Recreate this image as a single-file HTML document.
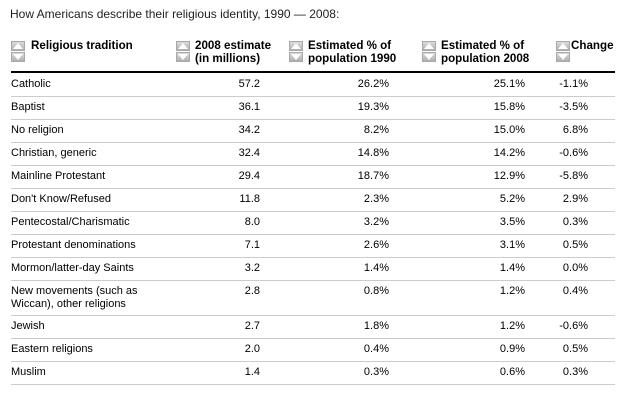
<!DOCTYPE html>
<html><head><meta charset="utf-8"><style>
body{margin:0;width:626px;height:400px;background:#fff;font-family:"Liberation Sans",Arial,sans-serif;color:#000;position:relative;overflow:hidden}
.t{position:absolute;left:10px;top:7px;font-size:12px;color:#222}
.h{position:absolute;font-size:11.6px;font-weight:bold;line-height:13px;top:39px}
.ic{position:absolute;width:14px;height:10px;background:linear-gradient(#dcdcdc,#b0b0b0);border:1px solid #a8a8a8;box-sizing:border-box}
.ic svg{display:block}
.hr{position:absolute;left:11px;width:604px;height:0;border-top:1px solid #ccc}
.thick{position:absolute;left:11px;width:604px;top:71px;height:2px;background:#000}
.c{position:absolute;font-size:11px;line-height:13px}
.r{text-align:right}
</style></head><body>
<div class="t">How Americans describe their religious identity, 1990 — 2008:</div>

<div class="ic" style="left:11px;top:41px"><svg width="12" height="8"><polygon points="6,1 11,7 1,7" fill="#fff"/></svg></div>
<div class="ic" style="left:11px;top:52px"><svg width="12" height="8"><polygon points="1,1 11,1 6,7" fill="#fff"/></svg></div>
<div class="h" style="left:31px">Religious tradition</div>

<div class="ic" style="left:176px;top:41px"><svg width="12" height="8"><polygon points="6,1 11,7 1,7" fill="#fff"/></svg></div>
<div class="ic" style="left:176px;top:52px"><svg width="12" height="8"><polygon points="1,1 11,1 6,7" fill="#fff"/></svg></div>
<div class="h" style="left:195px">2008 estimate<br>(in millions)</div>

<div class="ic" style="left:289px;top:41px"><svg width="12" height="8"><polygon points="6,1 11,7 1,7" fill="#fff"/></svg></div>
<div class="ic" style="left:289px;top:52px"><svg width="12" height="8"><polygon points="1,1 11,1 6,7" fill="#fff"/></svg></div>
<div class="h" style="left:308px">Estimated % of<br>population 1990</div>

<div class="ic" style="left:422px;top:41px"><svg width="12" height="8"><polygon points="6,1 11,7 1,7" fill="#fff"/></svg></div>
<div class="ic" style="left:422px;top:52px"><svg width="12" height="8"><polygon points="1,1 11,1 6,7" fill="#fff"/></svg></div>
<div class="h" style="left:441px">Estimated % of<br>population 2008</div>

<div class="ic" style="left:556px;top:41px"><svg width="12" height="8"><polygon points="6,1 11,7 1,7" fill="#fff"/></svg></div>
<div class="ic" style="left:556px;top:52px"><svg width="12" height="8"><polygon points="1,1 11,1 6,7" fill="#fff"/></svg></div>
<div class="h" style="left:571px">Change</div>

<div class="thick"></div>

<div id="rows"></div>
<script>
var d=[["Catholic","57.2","26.2%","25.1%","-1.1%"],["Baptist","36.1","19.3%","15.8%","-3.5%"],["No religion","34.2","8.2%","15.0%","6.8%"],["Christian, generic","32.4","14.8%","14.2%","-0.6%"],["Mainline Protestant","29.4","18.7%","12.9%","-5.8%"],["Don't Know/Refused","11.8","2.3%","5.2%","2.9%"],["Pentecostal/Charismatic","8.0","3.2%","3.5%","0.3%"],["Protestant denominations","7.1","2.6%","3.1%","0.5%"],["Mormon/latter-day Saints","3.2","1.4%","1.4%","0.0%"],["New movements (such as<br>Wiccan), other religions","2.8","0.8%","1.2%","0.4%"],["Jewish","2.7","1.8%","1.2%","-0.6%"],["Eastern religions","2.0","0.4%","0.9%","0.5%"],["Muslim","1.4","0.3%","0.6%","0.3%"]];
var y=73,h='';
d.forEach(function(r,i){var H=(i==9)?35:23;var ty=y+5;
h+='<div class="c" style="left:11px;top:'+ty+'px">'+r[0]+'</div>';
h+='<div class="c r" style="left:160px;width:100px;top:'+ty+'px">'+r[1]+'</div>';
h+='<div class="c r" style="left:290px;width:99px;top:'+ty+'px">'+r[2]+'</div>';
h+='<div class="c r" style="left:420px;width:105px;top:'+ty+'px">'+r[3]+'</div>';
h+='<div class="c r" style="left:540px;width:48px;top:'+ty+'px">'+r[4]+'</div>';
y+=H;h+='<div class="hr" style="top:'+y+'px"></div>';});
document.getElementById('rows').innerHTML=h;
</script>
</body></html>
